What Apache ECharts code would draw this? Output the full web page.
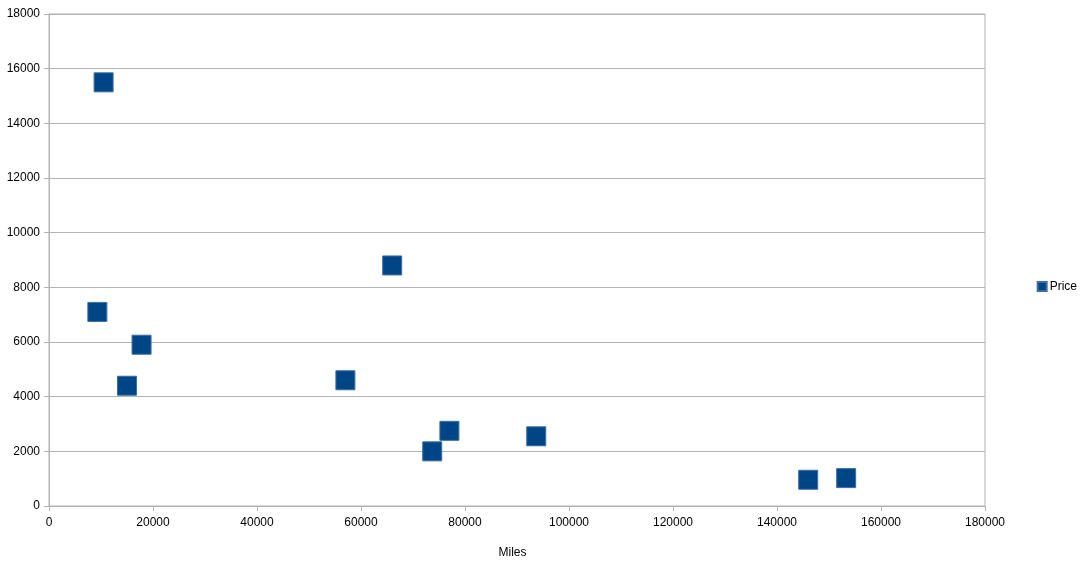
<!DOCTYPE html>
<html>
<head>
<meta charset="utf-8">
<script src="https://cdn.jsdelivr.net/npm/echarts@6/dist/echarts.min.js"></script>
<style>html,body{margin:0;padding:0;background:#fff}#c{width:1085px;height:573px}</style>
</head>
<body>
<div id="c"></div>
<script>
const miles = [10500, 9300, 17800, 15000, 57000, 66000, 73700, 77000, 93700, 146000, 153300];
const price = [15500, 7100, 5900, 4400, 4600, 8800, 2000, 2750, 2550, 960, 1020];
const seriesName = 'Price';
const xName = 'Miles';

const points = miles.map((m, i) => [m, price[i]]);
const chart = echarts.init(document.getElementById('c'), null, {renderer: 'canvas'});
const font = 'Liberation Sans, Arial, sans-serif';
const plain = v => String(v);
chart.setOption({
  animation: false,
  backgroundColor: '#fff',
  textStyle: {fontFamily: font},
  grid: {left: 49, right: 100, top: 14, bottom: 67, show: true, borderColor: '#b3b3b3', borderWidth: 1, containLabel: false},
  legend: {
    orient: 'vertical', right: 3, top: 'middle',
    icon: 'rect', itemWidth: 9, itemHeight: 9, itemGap: 4,
    textStyle: {fontFamily: font, fontSize: 12, color: '#000', padding: [1, 0, 0, -2]},
    data: [seriesName]
  },
  xAxis: {
    type: 'value', min: 0, max: 180000, interval: 20000,
    name: xName, nameLocation: 'middle', nameGap: 41,
    nameTextStyle: {fontFamily: font, fontSize: 12, color: '#000', padding: [0, 9, 0, 0]},
    axisLine: {show: true, lineStyle: {color: '#b3b3b3'}},
    axisTick: {show: true, length: 5, lineStyle: {color: '#b3b3b3'}},
    axisLabel: {fontFamily: font, fontSize: 12, color: '#000', margin: 11, formatter: plain},
    splitLine: {show: false}
  },
  yAxis: {
    type: 'value', min: 0, max: 18000, interval: 2000,
    axisLine: {show: true, lineStyle: {color: '#b3b3b3'}},
    axisTick: {show: true, length: 5, lineStyle: {color: '#b3b3b3'}},
    axisLabel: {fontFamily: font, fontSize: 12, color: '#000', margin: 9, formatter: plain},
    splitLine: {show: true, lineStyle: {color: '#b3b3b3'}}
  },
  series: [{
    name: seriesName, type: 'scatter', symbol: 'rect', symbolSize: 19,
    itemStyle: {color: '#004586', borderColor: '#3a6ea5', borderWidth: 1, opacity: 1},
    data: points
  }]
});
</script>
</body>
</html>
